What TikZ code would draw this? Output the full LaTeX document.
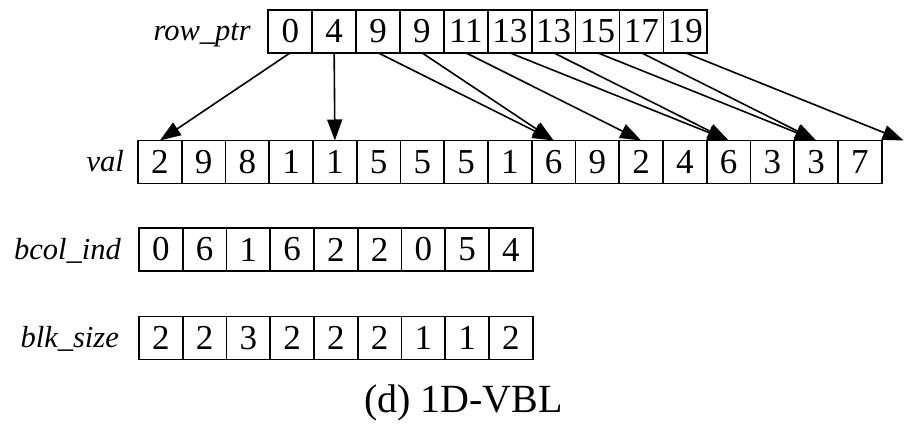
\documentclass[tikz,border=0pt]{standalone}
\usepackage{fontspec}
\setmainfont{Liberation Serif}
\usetikzlibrary{arrows.meta}
\begin{document}
\begin{tikzpicture}[x=1pt,y=-1pt,
  cell/.style={draw,line width=1.7pt,minimum width=43.75pt,minimum height=43pt,inner sep=0pt,outer sep=0pt,
    font=\fontsize{35}{40}\selectfont},
  lbl/.style={anchor=base east,inner sep=0pt,font=\fontsize{30.5}{34}\selectfont\itshape},
  ptr/.style={line width=1.6pt,-{Triangle[length=21pt,width=15pt]}}]
\useasboundingbox (0,0) rectangle (912,436);
% row_ptr
\foreach \v [count=\i from 0] in {0,4,9,9,11,13,13,15,17,19}
  \node[cell,minimum width=43.9pt] (r\i) at (268.3+43.9*\i+21.95,31.3) {\v};
% val
\foreach \v [count=\i from 0] in {2,9,8,1,1,5,5,5,1,6,9,2,4,6,3,3,7}
  \node[cell] (v\i) at (138+43.75*\i+21.875,162) {\v};
\coordinate (v17) at (138+43.75*17+21.875,140.5);
% bcol_ind
\foreach \v [count=\i from 0] in {0,6,1,6,2,2,0,5,4}
  \node[cell] (b\i) at (139+43.75*\i+21.875,249.5) {\v};
% blk_size
\foreach \v [count=\i from 0] in {2,2,3,2,2,2,1,1,2}
  \node[cell] (s\i) at (139+43.75*\i+21.875,338) {\v};
% labels
\node[lbl] (lr) at (251,41) {row\_ptr};
\node[lbl] (lv) at (124,171.5) {val};
\node[lbl] (lb) at (121,259) {bcol\_ind};
\node[lbl] (ls) at (119,347) {blk\_size};
% arrows
\foreach \a/\b in {0/0,1/4,2/9,3/9,4/11,5/13,6/13,7/15,8/15}
  \draw[ptr] (r\a.south) -- (v\b.north);
\draw[ptr] (r9.south) -- (v17);
% caption
\node[font=\fontsize{40}{44}\selectfont] (cap) at (463.5,403) {(d) 1D-VBL};
\end{tikzpicture}
\end{document}
